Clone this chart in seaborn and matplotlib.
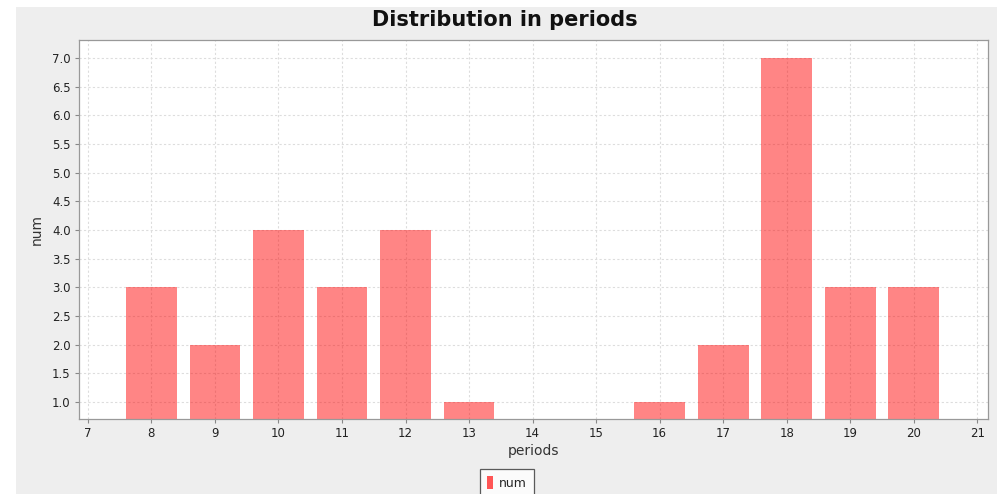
"""
Bar chart of the distribution in periods.
"""

import matplotlib
matplotlib.use("Agg")
import matplotlib.pyplot as plt
import matplotlib.patches as mpatches
import matplotlib.ticker as mticker
import seaborn as sns
import pandas as pd

periods = [8, 9, 10, 11, 12, 13, 14, 15, 16, 17, 18, 19, 20]
num = [3, 2, 4, 3, 4, 1, 0, 0, 1, 2, 7, 3, 3]
x_ticks = list(range(7, 22))
y_ticks = [1.0, 1.5, 2.0, 2.5, 3.0, 3.5, 4.0, 4.5, 5.0, 5.5, 6.0, 6.5, 7.0]


def main():
    sns.set_theme(style="white")
    plt.rcParams["font.family"] = ["DejaVu Sans"]

    df = pd.DataFrame({"periods": periods, "num": num})

    fig = plt.figure(figsize=(10.03, 4.94), dpi=100, facecolor="white")
    # grey chart background with thin white border like the original
    fig.patches.append(mpatches.Rectangle((16 / 1003, 0), 981 / 1003, 1 - 7 / 494,
                                          transform=fig.transFigure, facecolor="#eeeeee",
                                          edgecolor="none", zorder=-10))
    ax = fig.add_axes([79 / 1003, 1 - 419 / 494, 909 / 1003, 379 / 494])
    ax.set_facecolor("white")

    sns.barplot(data=df, x="periods", y="num", native_scale=True, color="red",
                alpha=0.48, width=0.8, ax=ax, zorder=2, linewidth=0, saturation=1)

    ax.set_xlim(6.86, 21.17)
    ax.set_ylim(0.703, 7.314)
    ax.set_xticks(x_ticks)
    ax.set_yticks(y_ticks)
    ax.yaxis.set_major_formatter(mticker.FormatStrFormatter("%.1f"))
    ax.grid(True, color="#dddddd", linestyle=(0, (2, 2)), linewidth=0.8, zorder=0)
    ax.set_axisbelow(True)

    ax.tick_params(axis="both", which="major", direction="out", length=3, width=0.8,
                   color="#888888", labelsize=8.5, labelcolor="#222222", pad=3,
                   bottom=True, left=True)
    for side in ["top", "right", "left", "bottom"]:
        ax.spines[side].set_color("#999999")
        ax.spines[side].set_linewidth(0.9)

    ax.set_xlabel("periods", fontsize=10, color="#333333", labelpad=3)
    ax.set_ylabel("num", fontsize=10, color="#333333", labelpad=6)

    fig.text(505 / 1003, 1 - 20 / 494, "Distribution in periods", ha="center", va="center",
             fontsize=15, fontweight="bold", color="#111111")

    handle = mpatches.Patch(facecolor="#ff5555", edgecolor="none", label="num")
    leg = fig.legend(handles=[handle], loc="upper center",
                     bbox_to_anchor=(507 / 1003, 1 - 469 / 494), fontsize=9,
                     frameon=True, fancybox=False, edgecolor="#333333",
                     handlelength=0.5, handleheight=1.2, handletextpad=0.5,
                     borderpad=0.55, borderaxespad=0)
    leg.get_frame().set_linewidth(0.9)

    fig.savefig("out.png", dpi=100, facecolor="white")
    plt.close(fig)


if __name__ == "__main__":
    main()
